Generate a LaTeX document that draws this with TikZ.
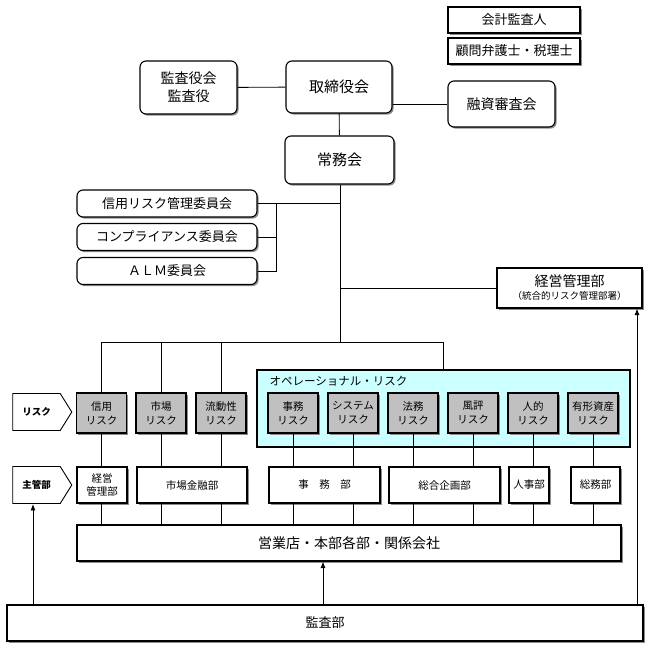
\documentclass[tikz,border=0pt]{standalone}
\usepackage{fontspec}
\setmainfont{Noto Sans CJK JP}
\usepackage{tikz}
\usetikzlibrary{arrows.meta, shadows, shapes.symbols}

\definecolor{opcyan}{HTML}{CCFFFF}
\definecolor{riskgray}{HTML}{C0C0C0}

\begin{document}
\begin{tikzpicture}[x=1pt, y=-1pt, >={Latex[length=6.5pt, width=5pt]},
    shade/.style={drop shadow={shadow xshift=1.6pt, shadow yshift=-1.6pt, fill=black!45, opacity=1}},
    rbox/.style={draw, line width=1.1pt, rounded corners=6pt, fill=white, shade, inner sep=0pt, align=center},
    sbox/.style={draw, line width=1.1pt, fill=white, shade, inner sep=0pt, align=center},
    riskbox/.style={sbox, fill=riskgray, minimum width=50pt, minimum height=40pt, font=\fontsize{10.5}{14}\selectfont},
    deptbox/.style={sbox, minimum height=36pt, font=\fontsize{10.5}{13}\selectfont},
    tagbox/.style={draw, line width=0.9pt, fill=white, signal, signal to=east, signal pointer angle=116,
        inner sep=0pt, minimum width=59pt, minimum height=37pt, font=\bfseries\fontsize{9.5}{11}\selectfont},
    link/.style={line width=0.9pt}]
    \useasboundingbox (0,0) rectangle (647,647);

    % Board and surrounding bodies
    \node (kaikei) [sbox, minimum width=132pt, minimum height=26pt, font=\fontsize{13}{15}\selectfont] at (514,20) {会計監査人};
    \node (komon) [sbox, minimum width=132pt, minimum height=26pt, font=\fontsize{13}{15}\selectfont] at (514,51) {顧問弁護士・税理士};
    \node (kansayaku) [rbox, minimum width=97pt, minimum height=53pt, font=\fontsize{14}{18}\selectfont] at (188.5,87.5) {監査役会\\監査役};
    \node (torishimari) [rbox, minimum width=106pt, minimum height=52pt, font=\fontsize{15}{18}\selectfont] at (339,87) {取締役会};
    \node (yushi) [rbox, minimum width=107pt, minimum height=46pt, font=\fontsize{14}{17}\selectfont] at (501.5,104) {融資審査会};
    \node (jomu) [rbox, minimum width=109pt, minimum height=48pt, font=\fontsize{15}{18}\selectfont] at (339.5,160) {常務会};

    % Committees
    \node (shinyoiin) [rbox, minimum width=180pt, minimum height=27pt, font=\fontsize{13}{15}\selectfont] at (167,203.5) {信用リスク管理委員会};
    \node (compiin) [rbox, minimum width=180pt, minimum height=27pt, font=\fontsize{13}{15}\selectfont] at (167,237) {コンプライアンス委員会};
    \node (almiin) [rbox, minimum width=180pt, minimum height=27pt, font=\fontsize{13}{15}\selectfont] at (167,271) {ＡＬＭ委員会};

    % Integrated risk management
    \node (keiei) [sbox, minimum width=145pt, minimum height=40pt, align=center] at (569.5,288)
        {{\fontsize{14}{16}\selectfont 経営管理部}\\[1pt]{\fontsize{9.5}{11}\selectfont （統合的リスク管理部署）}};

    % Operational risk frame
    \node (opframe) [draw, line width=1.1pt, fill=opcyan, minimum width=373pt, minimum height=77pt, inner sep=0pt] at (443.5,408.5) {};
    \node (optitle) [anchor=west, font=\fontsize{11.5}{13}\selectfont] at (266,381) {オペレーショナル・リスク};

    % Row labels
    \node (tagrisk) [tagbox] at (36.5,412) {リスク};
    \node (tagdept) [tagbox] at (36.5,485) {主管部};

    % Risk categories
    \node (rshinyo) [riskbox] at (101.5,413) {信用\\リスク};
    \node (rshijo) [riskbox] at (161,413) {市場\\リスク};
    \node (rryudo) [riskbox] at (221,413) {流動性\\リスク};
    \node (rjimu) [riskbox] at (293,413) {事務\\リスク};
    \node (rsys) [riskbox] at (353,413) {システム\\リスク};
    \node (rhomu) [riskbox] at (413,413) {法務\\リスク};
    \node (rfuhyo) [riskbox] at (473,413) {風評\\リスク};
    \node (rjinteki) [riskbox] at (533,413) {人的\\リスク};
    \node (ryukei) [riskbox] at (593,413) {有形資産\\リスク};

    % Responsible departments
    \node (dkeiei) [deptbox, minimum width=50pt] at (102,485) {経営\\管理部};
    \node (dshijo) [deptbox, minimum width=110pt] at (192,485) {市場金融部};
    \node (djimu) [deptbox, minimum width=111pt] at (324.5,485) {事　務　部};
    \node (dsogo) [deptbox, minimum width=111pt] at (444.5,485) {総合企画部};
    \node (djinji) [deptbox, minimum width=40pt] at (529,485) {人事部};
    \node (dsomu) [deptbox, minimum width=49pt] at (595.5,485) {総務部};

    \node (eigyo) [sbox, minimum width=544pt, minimum height=36pt, font=\fontsize{14}{16}\selectfont] at (349,543) {営業店・本部各部・関係会社};
    \node (kansabu) [sbox, minimum width=636pt, minimum height=36pt, font=\fontsize{13}{15}\selectfont] at (325,623) {監査部};

    % Connections at the top
    \draw[link] (kansayaku) -- (torishimari);
    \draw[link] (torishimari.east |- yushi) -- (yushi);
    \draw[link] (torishimari) -- (jomu);
    \coordinate (brk) at (276,203.5);
    \coordinate (bus) at (340,342);
    \draw[link] (shinyoiin) -- (brk) -- (jomu.south |- brk);
    \draw[link] (compiin) -- (compiin -| brk);
    \draw[link] (almiin) -- (almiin -| brk) -- (brk);
    \draw[link] (jomu.south -| bus) -- (bus);
    \draw[link] (bus |- keiei) -- (keiei);

    % Bus to risk categories
    \draw[link] (rshinyo.north) -- (rshinyo.north |- bus) -- (443,342) -- (443,342 |- opframe.north);
    \draw[link] (rshijo.north) -- (rshijo.north |- bus);
    \draw[link] (rryudo.north) -- (rryudo.north |- bus);

    % Risks to departments to branches
    \foreach \r/\d in {rshinyo/dkeiei, rshijo/dshijo, rryudo/dshijo, rjimu/djimu, rsys/djimu,
                       rhomu/dsogo, rfuhyo/dsogo, rjinteki/djinji, ryukei/dsomu}
        \draw[link] (\r.south) -- (\r.south |- \d.north)
                    (\r.south |- \d.south) -- (\r.south |- eigyo.north);

    % Audit arrows
    \draw[link, ->] (kansabu.north -| 33,0) -- (33,0 |- tagdept.south);
    \draw[link, ->] (kansabu.north -| 323,0) -- (323,0 |- eigyo.south);
    \draw[link, ->] (kansabu.north -| 637,0) -- (637,0 |- keiei.south);
\end{tikzpicture}
\end{document}
